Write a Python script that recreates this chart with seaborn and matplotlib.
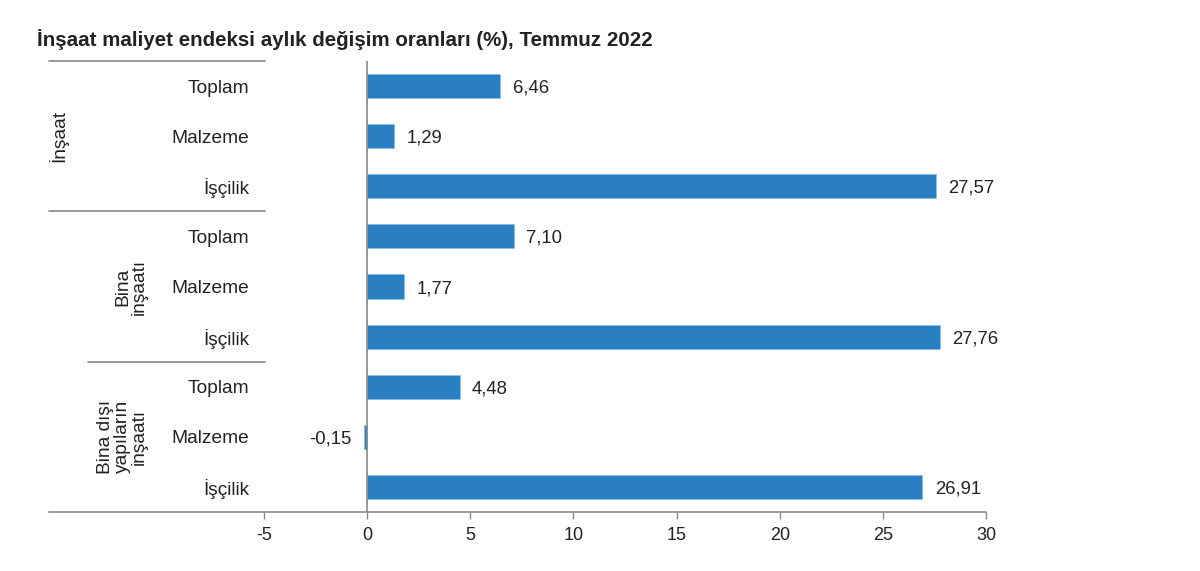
import matplotlib
matplotlib.use("Agg")
import matplotlib.pyplot as plt
import seaborn as sns
import pandas as pd

categories = ["Toplam", "Malzeme", "İşçilik",
              "Toplam", "Malzeme", "İşçilik",
              "Toplam", "Malzeme", "İşçilik"]
values = [6.46, 1.29, 27.57, 7.10, 1.77, 27.76, 4.48, -0.15, 26.91]
groups = ["İnşaat", "Bina\ninşaatı", "Bina dışı\nyapıların\ninşaatı"]
xticks = [-5, 0, 5, 10, 15, 20, 25, 30]
title = "İnşaat maliyet endeksi aylık değişim oranları (%), Temmuz 2022"

sns.set_theme(style="white")
plt.rcParams["font.family"] = ["Liberation Sans", "DejaVu Sans"]

df = pd.DataFrame({"id": [str(i) for i in range(len(values))],
                   "cat": categories, "val": values})

fig = plt.figure(figsize=(12, 5.71), dpi=100)
ax = fig.add_axes([264/1200, 59/571, 722/1200, 451/571])
sns.barplot(data=df, x="val", y="id", orient="h", color="#2a7fc2",
            width=0.48, saturation=1, ax=ax, edgecolor="#7cc3e6", linewidth=0.4)

ax.set_xlim(-5, 30)
ax.set_ylim(8.5, -0.5)
ax.set_xticks(xticks)
ax.set_xticklabels([str(t) for t in xticks], fontsize=13, color="#222222")
ax.set_yticks(range(len(categories)))
ax.set_yticklabels(categories, fontsize=13.8, color="#222222")
ax.tick_params(axis="y", length=0, pad=10.5)
ax.tick_params(axis="x", length=5, width=1, color="#888888", direction="out",
               bottom=True, pad=6)
ax.set_xlabel("")
ax.set_ylabel("")
for s in ["top", "right", "left", "bottom"]:
    ax.spines[s].set_visible(False)

ax.axvline(0, color="#888888", lw=1.2, zorder=3)

# baseline and group separators
tr = ax.transAxes
ax.plot([-0.298, 1.0], [0, 0], transform=tr, color="#888888", lw=1.2, clip_on=False)
ax.plot([-0.298, 0.0014], [1.0, 1.0], transform=tr, color="#888888", lw=1.2, clip_on=False)
yt = ax.get_yaxis_transform()
ax.plot([-0.298, 0.0014], [2.5, 2.5], transform=yt, color="#888888", lw=1.2, clip_on=False)
ax.plot([-0.244, 0.0014], [5.5, 5.5], transform=yt, color="#888888", lw=1.2, clip_on=False)

# group labels
gx = [(58-264)/722, (131-264)/722, (122-264)/722]
gy = [1, 4, 7]
for x, y, g in zip(gx, gy, groups):
    ax.text(x, y, g, transform=yt, rotation=90, ha="center", va="center",
            fontsize=13.8, color="#222222", linespacing=1.0)

# value labels
for i, v in enumerate(values):
    lab = f"{v:.2f}".replace(".", ",")
    if v >= 0:
        ax.annotate(lab, (v, i), xytext=(9, 0), textcoords="offset points",
                    ha="left", va="center_baseline", fontsize=13.3, color="#222222")
    else:
        ax.annotate(lab, (v, i), xytext=(-9, 0), textcoords="offset points",
                    ha="right", va="center_baseline", fontsize=13.3, color="#222222")

fig.text(37/1200, 1 - 40/571, title, fontsize=14.8, fontweight="bold",
         ha="left", va="center", color="#222222")

fig.savefig("out.png", dpi=100, facecolor="white")
